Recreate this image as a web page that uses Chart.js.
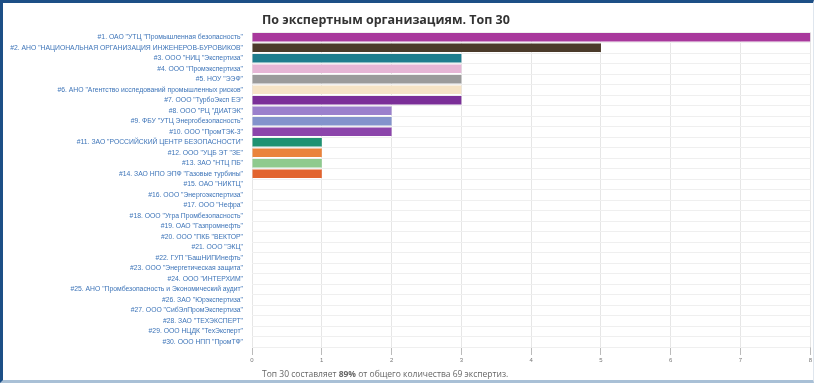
<!DOCTYPE html>
<html>
<head>
<meta charset="utf-8">
<script src="https://cdn.jsdelivr.net/npm/chart.js@4"></script>
<style>
  html, body { margin: 0; padding: 0; background: #fff; }
  #frame {
    position: relative; width: 814px; height: 383px; box-sizing: border-box;
    border-top: 3px solid #1d4f86; border-left: 3px solid #1d4f86;
    border-bottom: 3px solid #a9c0d6; border-right: 1px solid #dfe6ee;
    overflow: hidden; font-family: "Open Sans", "Noto Sans", sans-serif;
  }
  #chartBox { position: absolute; left: -3px; top: -3px; width: 814px; height: 383px; }
  #title {
    position: absolute; left: 259px; top: 8px; font-size: 12.5px; font-weight: bold; color: #333;
  }
  #footer {
    position: absolute; left: 259px; top: 365px; font-size: 8.5px; color: #666;
  }
</style>
</head>
<body>
<div id="frame">
  <div id="chartBox"><canvas id="chartOrgs"></canvas></div>
  <div id="title">По экспертным организациям. Топ 30</div>
  <div id="footer">Топ 30 составляет <b>89%</b> от общего количества 69 экспертиз.</div>
</div>
<script>
// ===== DATA =====
const orgLabels = [
  '#1. ОАО "УТЦ "Промышленная безопасность"',
  '#2. АНО "НАЦИОНАЛЬНАЯ ОРГАНИЗАЦИЯ ИНЖЕНЕРОВ-БУРОВИКОВ"',
  '#3. ООО "НИЦ "Экспертиза"',
  '#4. ООО "Промэкспертиза"',
  '#5. НОУ "ЭЭФ"',
  '#6. АНО "Агентство исследований промышленных рисков"',
  '#7. ООО "ТурбоЭксп ЕЭ"',
  '#8. ООО "РЦ "ДИАТЭК"',
  '#9. ФБУ "УТЦ Энергобезопасность"',
  '#10. ООО "ПромТЭК-3"',
  '#11. ЗАО "РОССИЙСКИЙ ЦЕНТР БЕЗОПАСНОСТИ"',
  '#12. ООО "УЦБ ЭТ "ЗЕ"',
  '#13. ЗАО "НТЦ ПБ"',
  '#14. ЗАО НПО ЭПФ "Газовые турбины"',
  '#15. ОАО "НИКТЦ"',
  '#16. ООО "Энергоэкспертиза"',
  '#17. ООО "Нефра"',
  '#18. ООО "Угра Промбезопасность"',
  '#19. ОАО "Газпромнефть"',
  '#20. ООО "ПКБ "ВЕКТОР"',
  '#21. ООО "ЭКЦ"',
  '#22. ГУП "БашНИПИнефть"',
  '#23. ООО "Энергетическая защита"',
  '#24. ООО "ИНТЕРХИМ"',
  '#25. АНО "Промбезопасность и Экономический аудит"',
  '#26. ЗАО "Юрэкспертиза"',
  '#27. ООО "СибЭлПромЭкспертиза"',
  '#28. ЗАО "ТЕХЭКСПЕРТ"',
  '#29. ООО НЦДК "ТехЭксперт"',
  '#30. ООО НПП "ПромТФ"'
];
const orgCounts = [8, 5, 3, 3, 3, 3, 3, 2, 2, 2, 1, 1, 1, 1,
  0, 0, 0, 0, 0, 0, 0, 0, 0, 0, 0, 0, 0, 0, 0, 0];
const barColors = [
  '#a8389c', '#4b3a2a', '#1f7d8e', '#e6b6d6', '#9b9b9b', '#f6e4c6', '#7b2f98',
  '#9b80cc', '#8393cc', '#8c45ab', '#1f9272', '#ea833c', '#8fca8e', '#e2642f',
  '#cccccc', '#cccccc', '#cccccc', '#cccccc', '#cccccc', '#cccccc', '#cccccc', '#cccccc',
  '#cccccc', '#cccccc', '#cccccc', '#cccccc', '#cccccc', '#cccccc', '#cccccc', '#cccccc'
];
const xTickMax = 8;

// ===== CHART =====
const ctx = document.getElementById('chartOrgs').getContext('2d');
new Chart(ctx, {
  type: 'bar',
  data: {
    labels: orgLabels,
    datasets: [{
      data: orgCounts,
      backgroundColor: barColors,
      borderWidth: 0,
      barPercentage: 0.8,
      categoryPercentage: 1.0
    }]
  },
  options: {
    indexAxis: 'y',
    responsive: true,
    maintainAspectRatio: false,
    animation: false,
    layout: { padding: { top: 32, bottom: 16, left: 0, right: 2 } },
    plugins: { legend: { display: false }, tooltip: { enabled: false } },
    scales: {
      x: {
        min: 0, max: xTickMax,
        ticks: { stepSize: 1, font: { size: 6 }, color: '#777', padding: 2 },
        grid: { color: '#e6e6e6', tickLength: 8, tickColor: '#bbb' },
        border: { display: false },
        afterFit: s => { s.height = 20; }
      },
      y: {
        ticks: { font: { size: 6.8 }, color: '#3d74b8', padding: 9, autoSkip: false },
        grid: { color: '#efefef', drawTicks: false },
        border: { display: false },
        afterFit: s => { s.width = 252; }
      }
    }
  }
});
</script>
</body>
</html>
